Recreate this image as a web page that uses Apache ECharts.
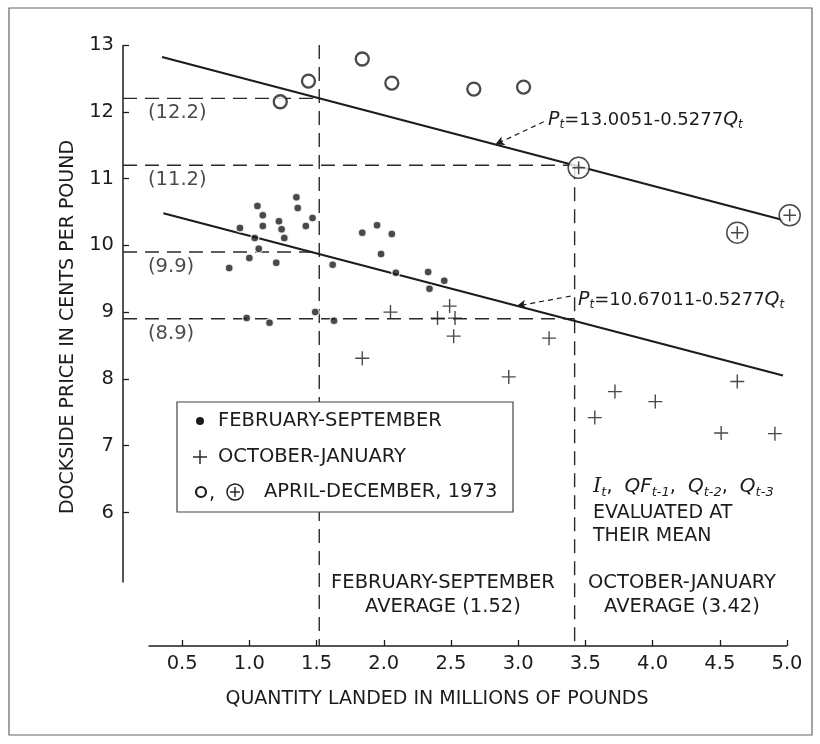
<!DOCTYPE html>
<html><head><meta charset="utf-8">
<script src="https://cdn.jsdelivr.net/npm/echarts@6/dist/echarts.min.js"></script>
<style>html,body{margin:0;padding:0;background:#fff}#c{width:820px;height:744px}</style>
</head><body><div id="c"></div>
<script>
// ---------- data ----------
const xTicks = [0.5, 1.0, 1.5, 2.0, 2.5, 3.0, 3.5, 4.0, 4.5, 5.0];
const yTicks = [6, 7, 8, 9, 10, 11, 12, 13];

// February-September observations (quantity, price)
const febSep = [
  [1.35,10.72],[1.36,10.56],[1.06,10.59],[1.10,10.45],[1.22,10.36],[1.10,10.29],
  [1.24,10.24],[0.93,10.26],[1.47,10.41],[1.42,10.29],[1.26,10.11],[1.04,10.11],
  [1.07,9.95],[1.00,9.81],[0.85,9.66],[1.20,9.74],[1.62,9.71],[1.84,10.19],
  [1.95,10.30],[2.06,10.17],[1.98,9.87],[2.09,9.59],[2.33,9.60],[2.34,9.35],
  [2.45,9.47],[0.98,8.91],[1.15,8.84],[1.49,9.00],[1.63,8.87]
];
// October-January observations
const octJan = [
  [2.05,9.00],[2.49,9.09],[2.40,8.91],[2.53,8.91],[2.52,8.64],[1.84,8.31],
  [3.23,8.61],[2.93,8.03],[3.72,7.81],[3.57,7.42],[4.02,7.66],[4.63,7.96],
  [4.51,7.19],[4.91,7.18]
];
// April-December 1973 (open circles, circled plus)
const aprDec73Circles = [[1.23,12.15],[1.44,12.46],[1.84,12.79],[2.06,12.43],[2.67,12.34],[3.04,12.37]];
const aprDec73CircledPlus = [[3.45,11.16],[4.63,10.19],[5.02,10.45]];

// fitted lines (end points)
const upperFit = [[0.35,12.82],[4.97,10.38]];
const lowerFit = [[0.36,10.48],[4.97,8.05]];
const upperFitLabel = 'P_t=13.0051-0.5277Q_t';
const lowerFitLabel = 'P_t=10.67011-0.5277Q_t';

// season averages of quantity and the prices read at them
const febSepAverage = {q: 1.52, prices: [12.2, 9.9]};
const octJanAverage = {q: 3.42, prices: [11.2, 8.9]};

// ---------- chart ----------
const X_MIN = 0.06, X_MAX = 5.0, Y_MIN = 4, Y_MAX = 13;
const X_AXIS_START = 0.25, Y_AXIS_END = 4.95;
const INK = '#1c1c1c';
const FONT = 'DejaVu Sans';
const FS = 19.5;
const DASH = [14, 8];

const chart = echarts.init(document.getElementById('c'));
const series = [];

function solid(data, w){ return {type:'line', data, symbol:'none', silent:true, clip:false, z:1,
  lineStyle:{color:INK, width:w, type:'solid'}}; }
function dashed(data){ return {type:'line', data, symbol:'none', silent:true, clip:false, z:1,
  lineStyle:{color:'#2a2a2a', width:1.4, type:DASH}}; }

// axis lines (detached like the drawing)
series.push(solid([[X_AXIS_START, Y_MIN],[X_MAX, Y_MIN]], 1.5));
series.push(solid([[X_MIN, Y_AXIS_END],[X_MIN, Y_MAX]], 1.5));

// reference dashed lines
[[febSepAverage, Y_MAX],[octJanAverage, octJanAverage.prices[0]]].forEach(([avg, top]) => {
  avg.prices.forEach(p => series.push(dashed([[X_MIN, p],[avg.q, p]])));
  series.push(dashed([[avg.q, top],[avg.q, Y_MIN]]));
});

// price labels
series.push({type:'scatter', silent:true, symbolSize:0, z:5,
  data: [...febSepAverage.prices, ...octJanAverage.prices].map(p => [X_MIN, p]),
  label:{show:true, position:'right', distance:0, offset:[25, 15], color:INK, fontSize:FS, fontFamily:FONT,
    formatter: d => '(' + d.value[1].toFixed(1) + ')'}});

// fitted lines with arrows
const arrowStyle = {type:[5,4], width:1.2, color:INK, curveness:-0.4};
series.push({type:'line', data:upperFit, symbol:'none', silent:true, clip:false, z:2,
  lineStyle:{color:INK, width:2.2},
  markLine:{silent:true, symbol:['none','arrow'], symbolSize:[7,9], label:{show:false}, lineStyle:arrowStyle,
    data:[[{coord:[3.19,11.85]},{coord:[2.83,11.51]}]]}});
series.push({type:'line', data:lowerFit, symbol:'none', silent:true, clip:false, z:2,
  lineStyle:{color:INK, width:2.2},
  markLine:{silent:true, symbol:['none','arrow'], symbolSize:[7,9], label:{show:false}, lineStyle:arrowStyle,
    data:[[{coord:[3.39,9.24]},{coord:[2.99,9.09]}]]}});

// observations
series.push({type:'scatter', name:'FEBRUARY-SEPTEMBER', data:febSep, symbol:'circle', symbolSize:8, z:4,
  itemStyle:{color:INK, borderColor:'#fff', borderWidth:1.5}});
series.push({type:'scatter', name:'OCTOBER-JANUARY', data:octJan, symbol:'path://M0,7L14,7M7,0L7,14', symbolSize:14, z:4,
  itemStyle:{color:'none', borderColor:INK, borderWidth:1.4}});
series.push({type:'scatter', name:'APRIL-DECEMBER, 1973', data:aprDec73Circles, symbol:'circle', symbolSize:13, z:4,
  itemStyle:{color:'#fff', borderColor:INK, borderWidth:2.3}});
series.push({type:'scatter', name:'APRIL-DECEMBER, 1973 (+)', data:aprDec73CircledPlus, clip:false, z:4,
  symbol:'path://M0,10A10,10,0,1,1,20,10A10,10,0,1,1,0,10ZM4,10L16,10M10,4L10,16', symbolSize:21,
  itemStyle:{color:'#fff', borderColor:INK, borderWidth:1.5}});

function eqRich(s){
  const m = s.match(/^P_t=(.*)Q_t$/);
  return '{i|P}{s|t}{n|=' + m[1] + '}{i|Q}{s|t}';
}
const eqStyleRich = {
  i:{font:'italic 19px DejaVu Sans', fill:INK},
  s:{font:'italic 12px DejaVu Sans', fill:INK, padding:[10,0,0,0]},
  n:{font:'18px DejaVu Sans', fill:INK}
};
const txt = (text, x, y, extra) => Object.assign({type:'text', x, y, silent:true, z:100,
  style:Object.assign({text, fill:INK, font:FS + 'px ' + FONT, align:'center', verticalAlign:'middle', lineHeight:24}, extra||{})});

const graphic = [
  {type:'rect', silent:true, z:0, shape:{x:9, y:8, width:803, height:727}, style:{fill:'none', stroke:'#666', lineWidth:1.2}},
  Object.assign(txt('DOCKSIDE PRICE IN CENTS PER POUND', 68, 327, {font:'19px ' + FONT}), {rotation:Math.PI/2}),
  txt('QUANTITY LANDED IN MILLIONS OF POUNDS', 437, 699, {font:'19px ' + FONT}),
  txt('FEBRUARY-SEPTEMBER\nAVERAGE (1.52)', 443, 595),
  txt('OCTOBER-JANUARY\nAVERAGE (3.42)', 682, 595),
  {type:'text', x:548, y:120, silent:true, z:100, style:{text:eqRich(upperFitLabel), rich:eqStyleRich, verticalAlign:'middle', fill:INK}},
  {type:'text', x:578, y:300, silent:true, z:100, style:{text:eqRich(lowerFitLabel), rich:eqStyleRich, verticalAlign:'middle', fill:INK}},
  {type:'text', x:593, y:472, silent:true, z:100, style:{
    text:'{I|I}{s|t}{n|,  }{i|QF}{s|t-1}{n|,  }{i|Q}{s|t-2}{n|,  }{i|Q}{s|t-3}\n{n|EVALUATED AT}\n{n|THEIR MEAN}',
    rich:{I:{font:'italic 21px DejaVu Serif', fill:INK, lineHeight:30}, i:{font:'italic 20px DejaVu Sans', fill:INK, lineHeight:30},
      s:{font:'italic 13px DejaVu Sans', fill:INK, padding:[11,0,0,0], lineHeight:30}, n:{font:'19px DejaVu Sans', fill:INK, lineHeight:23}},
    verticalAlign:'top', fill:INK}},
  // legend box
  {type:'group', z:100, silent:true, children:[
    {type:'rect', shape:{x:177, y:402, width:336, height:110}, style:{fill:'#fff', stroke:'#444', lineWidth:1.2}, z:100},
    {type:'circle', shape:{cx:200, cy:421, r:4}, style:{fill:INK}, z:101},
    txt('FEBRUARY-SEPTEMBER', 218, 421, {align:'left'}),
    {type:'line', shape:{x1:193, y1:457, x2:207, y2:457}, style:{stroke:INK, lineWidth:1.4}, z:101},
    {type:'line', shape:{x1:200, y1:450, x2:200, y2:464}, style:{stroke:INK, lineWidth:1.4}, z:101},
    txt('OCTOBER-JANUARY', 218, 457, {align:'left'}),
    {type:'circle', shape:{cx:201, cy:492, r:5}, style:{fill:'#fff', stroke:INK, lineWidth:2.2}, z:101},
    txt(',', 209, 494, {align:'left'}),
    {type:'circle', shape:{cx:235, cy:492, r:8}, style:{fill:'#fff', stroke:INK, lineWidth:1.5}, z:101},
    {type:'line', shape:{x1:230, y1:492, x2:240, y2:492}, style:{stroke:INK, lineWidth:1.4}, z:102},
    {type:'line', shape:{x1:235, y1:487, x2:235, y2:497}, style:{stroke:INK, lineWidth:1.4}, z:102},
    txt('APRIL-DECEMBER, 1973', 264, 492, {align:'left'})
  ]}
];

chart.setOption({
  animation:false,
  backgroundColor:'#fff',
  grid:{left:123, right:33, top:45, bottom:98},
  xAxis:{type:'value', min:X_MIN, max:X_MAX, axisLine:{show:false}, splitLine:{show:false},
    axisTick:{show:true, inside:true, length:6, customValues:xTicks, lineStyle:{color:INK, width:1.3}},
    axisLabel:{customValues:xTicks, formatter:v => v.toFixed(1), fontSize:FS, fontFamily:FONT, color:INK, margin:8}},
  yAxis:{type:'value', min:Y_MIN, max:Y_MAX, axisLine:{show:false}, splitLine:{show:false},
    axisTick:{show:true, inside:true, length:6, customValues:yTicks, lineStyle:{color:INK, width:1.3}},
    axisLabel:{customValues:yTicks, formatter:v => String(v), fontSize:FS, fontFamily:FONT, color:INK, margin:9}},
  series,
  graphic
});
</script></body></html>
